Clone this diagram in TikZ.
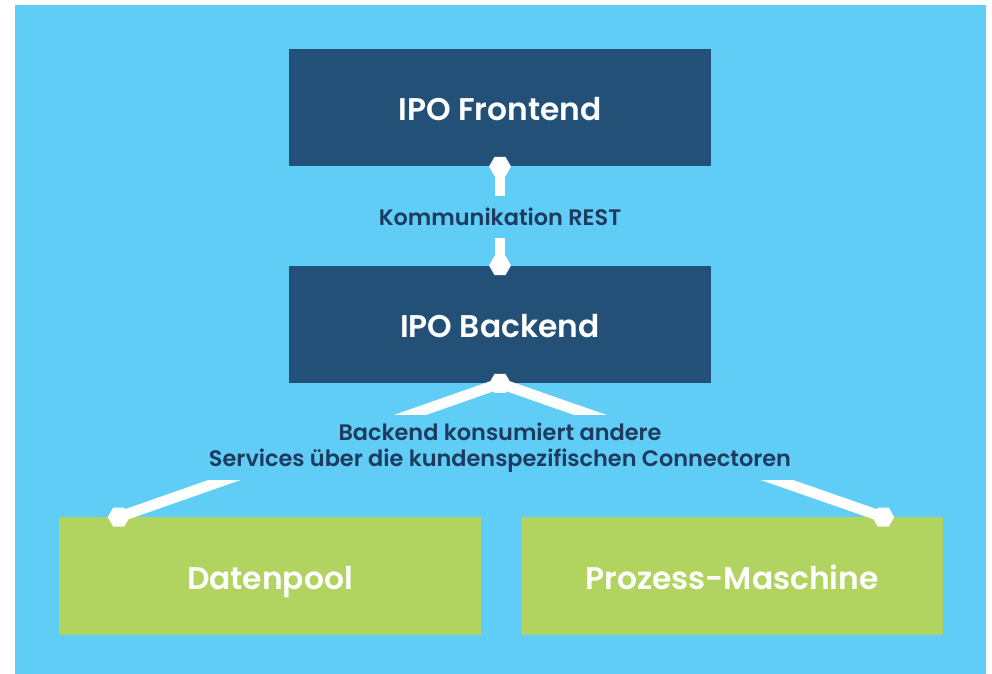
\documentclass[tikz,border=0pt]{standalone}
\usepackage{fontspec}
\setmainfont{Poppins}
\newfontfamily\titlefont{Poppins SemiBold}
\newfontfamily\labelfont{Poppins SemiBold}
\usetikzlibrary{shapes.geometric}

\definecolor{skyblue}{HTML}{5FCDF5}
\definecolor{ipoblue}{HTML}{235077}
\definecolor{ipogreen}{HTML}{B0D45F}
\definecolor{labelblue}{HTML}{1E3A5F}

\tikzset{
  box/.style={fill=#1, inner sep=0pt, minimum width=316.5pt, minimum height=88pt,
    text height=20pt, text depth=0pt,
    text=white, font=\titlefont\fontsize{23.5}{28}\selectfont},
  plug/.style={regular polygon, regular polygon sides=6, fill=white, inner sep=0pt, minimum size=16.5pt},
  wire/.style={white, line width=8pt},
  tag/.style={fill=skyblue, text=labelblue, inner sep=0pt, align=center,
    font=\labelfont\fontsize{16.8}{19.5}\selectfont}
}

\begin{document}
\begin{tikzpicture}[x=0.75pt,y=-0.75pt]
  % Background
  \useasboundingbox (0,0) rectangle (992,674);
  \fill[white] (0,0) rectangle (992,674);
  \fill[skyblue] (15,5) rectangle (986,674);

  % Boxes
  \node[box=ipoblue] (frontend) at (500,107.5) {IPO Frontend};
  \node[box=ipoblue] (backend) at (500,324.5) {IPO Backend};
  \node[box=ipogreen] (datenpool) at (270,576) {Datenpool};
  \node[box=ipogreen] (maschine) at (732,576) {Prozess-Maschine};

  % Plugs
  \node[plug] (fe-plug) at (frontend.south) {};
  \node[plug] (be-top) at (backend.north) {};
  \node[plug] (be-bottom) at (backend.south) {};
  \node[plug] (dp-plug) at ([xshift=45pt]datenpool.north west) {};
  \node[plug] (pm-plug) at ([xshift=-45pt]maschine.north east) {};

  % Connectors
  \draw[wire] (fe-plug.center) -- (be-top.center);
  \draw[wire] (be-bottom.center) -- (dp-plug.center);
  \draw[wire] (be-bottom.center) -- (pm-plug.center);

  % Labels
  \node[tag, minimum height=31.5pt] (rest) at (500,217) {Kommunikation REST};
  \node[tag, minimum height=48.75pt, minimum width=450pt] (consume) at (500,447.5)
    {Backend konsumiert andere\\Services über die kundenspezifischen Connectoren};
\end{tikzpicture}
\end{document}
